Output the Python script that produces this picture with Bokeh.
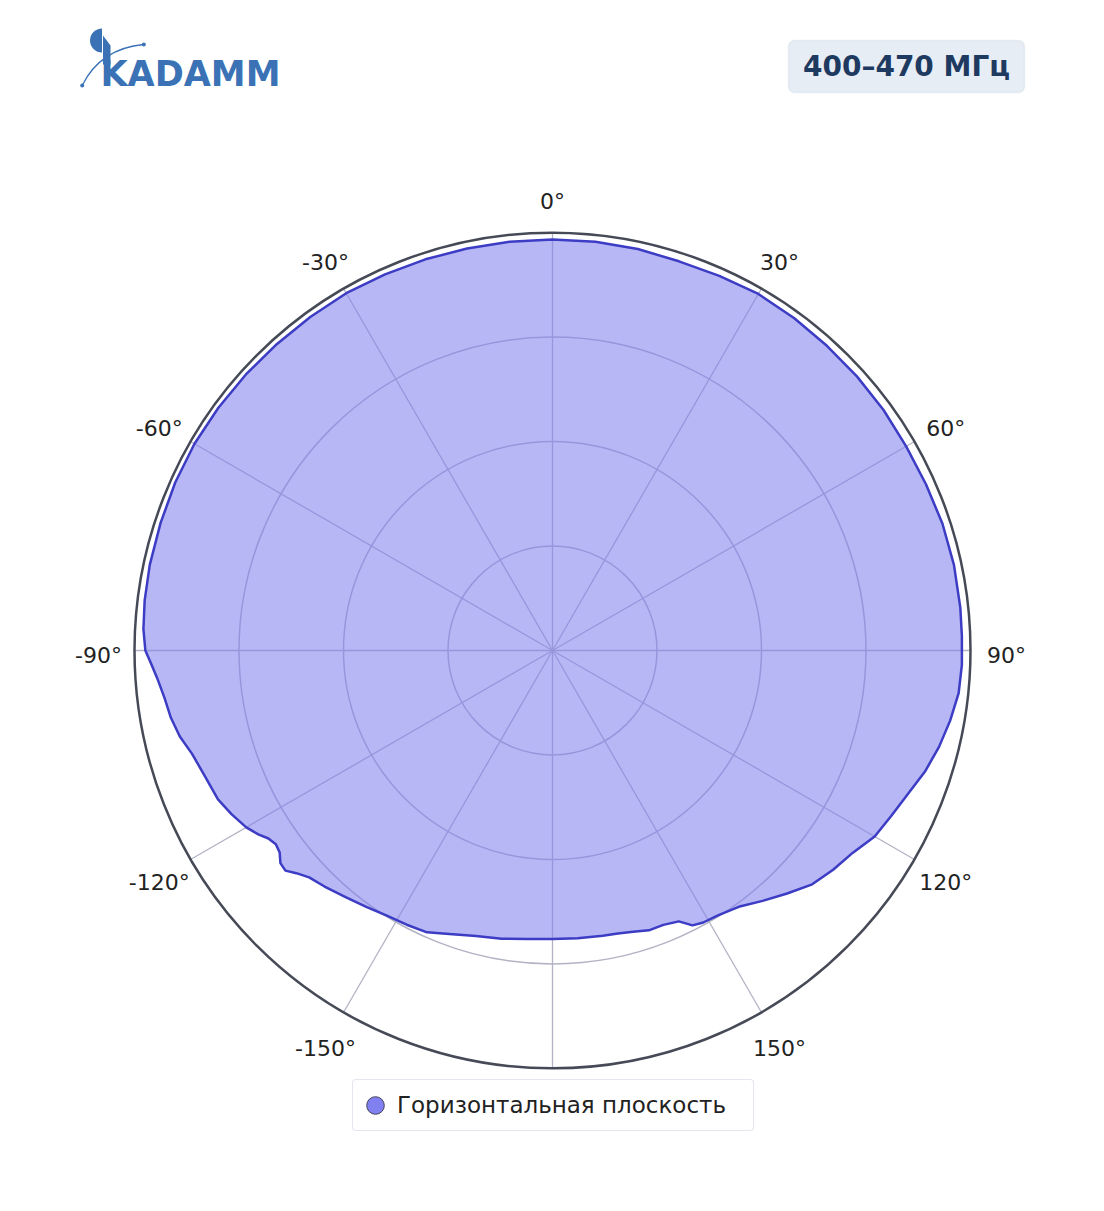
import numpy as np
from bokeh.plotting import figure
from bokeh.models import Range1d, Legend, LegendItem, BoxAnnotation, Label
from bokeh.core.properties import value
from bokeh.embed import file_html
from bokeh.resources import INLINE

# ---------------- data ----------------
angles_deg = [-180, -175, -170, -165, -160, -156, -152, -148, -144, -140, -136, -133,
              -131, -129.5, -128, -126.5, -125, -123.5, -122, -120, -117, -114, -110,
              -106, -103, -100, -97, -94, -92, -90, -87, -83, -78, -72, -66, -60, -54,
              -48, -42, -36, -30, -24, -18, -12, -6, 0, 6, 12, 18, 24, 30, 36, 42, 48,
              54, 60, 66, 72, 78, 84, 88, 92, 96, 100, 104, 108, 112, 116, 120, 124,
              128, 132, 136, 140, 144, 148, 151, 153, 155, 158, 161, 164, 167, 170, 175]
gain = [0.690, 0.693, 0.700, 0.707, 0.722, 0.738, 0.743, 0.748, 0.758, 0.770, 0.785, 0.796,
        0.812, 0.828, 0.826, 0.812, 0.808, 0.815, 0.830, 0.846, 0.862, 0.876, 0.884,
        0.897, 0.915, 0.927, 0.935, 0.948, 0.960, 0.974, 0.980, 0.983, 0.985, 0.986, 0.988, 0.989, 0.988,
        0.987, 0.986, 0.986, 0.987, 0.985, 0.984, 0.983, 0.983, 0.983, 0.983, 0.982, 0.979, 0.981, 0.985, 0.983, 0.981, 0.980,
        0.979, 0.977, 0.978, 0.981, 0.982, 0.981, 0.980, 0.980, 0.977, 0.966, 0.953, 0.937, 0.917, 0.902, 0.890, 0.866,
        0.852, 0.836, 0.808, 0.782, 0.758, 0.747, 0.744, 0.738, 0.715, 0.708, 0.708, 0.700, 0.695, 0.693, 0.691]

ring_values = [0.25, 0.5, 0.75]
axis_max = 1.0
spoke_angles = [0, 30, 60, 90, 120, 150, 180, 210, 240, 270, 300, 330]
tick_angles = [0, 30, 60, 90, 120, 150, -150, -120, -90, -60, -30]
tick_labels = ["0°", "30°", "60°", "90°", "120°", "150°", "-150°", "-120°", "-90°", "-60°", "-30°"]
series_name = "Горизонтальная плоскость"
band_title = "400–470 МГц"
brand = "KADAMM"

# ---------------- layout helpers ----------------
W, H = 1088, 1195
CX, CY = 552, 650      # page px of polar centre
S = 418.0              # px per unit radius


def P(xp, yp):
    return (xp - CX) / S, (CY - yp) / S


p = figure(width=W, height=H,
           x_range=Range1d((0 - CX) / S, (W - CX) / S),
           y_range=Range1d((CY - H) / S, CY / S),
           output_backend="svg", toolbar_location=None,
           x_axis_type=None, y_axis_type=None, min_border=0,
           outline_line_color=None, background_fill_color="white",
           border_fill_color="white")

# rings
p.circle(x=[0] * len(ring_values), y=[0] * len(ring_values), radius=ring_values,
         fill_color=None, line_color="#b2b3c4", line_width=1.5)
# spokes
sa = np.radians(spoke_angles)
p.segment(x0=np.zeros(len(sa)), y0=np.zeros(len(sa)),
          x1=axis_max * np.sin(sa), y1=axis_max * np.cos(sa),
          line_color="#b2b3c4", line_width=1.3)

# data
th = np.radians(np.array(angles_deg, dtype=float))
r = np.array(gain)
xs = r * np.sin(th)
ys = r * np.cos(th)
p.patch(list(xs), list(ys), fill_color="#8080f0", fill_alpha=0.57, line_color=None)
p.line(list(xs) + [xs[0]], list(ys) + [ys[0]], line_color="#3c3cc4", line_width=2.5,
       line_join="round")

# outer circle
p.circle(x=[0], y=[0], radius=[axis_max], fill_color=None, line_color="#454a56",
         line_width=2.5)

# angular tick labels
ta = np.radians(tick_angles)
LR = 454.0 / S
p.text(x=LR * np.sin(ta), y=LR * np.cos(ta), text=tick_labels,
       text_font=value("DejaVu Sans"), text_font_size="22px", text_color="#222222",
       text_align="center", text_baseline="middle", y_offset=5)

# legend (marker renderer kept outside the visible range; only its legend glyph shows)
dummy = p.scatter(x=[50.0], y=[50.0], marker="circle", size=20, fill_color="#8080f0",
                  line_color="#44445a", line_width=1)
legend = Legend(items=[LegendItem(label=series_name, renderers=[dummy])],
                location=(352, H - 1131), padding=0, margin=0,
                glyph_width=44, glyph_height=50, label_standoff=0, label_width=356,
                label_text_font="DejaVu Sans", label_text_font_size="23px",
                label_text_color="#222222", border_line_color="#c9d1de",
                border_line_width=1.5, background_fill_color="white",
                background_fill_alpha=1.0)
if "border_radius" in Legend.properties():
    legend.border_radius = 4
p.add_layout(legend)

# title box
l, t = P(788, 40)
rr, b = P(1024, 92)
box = BoxAnnotation(left=l, right=rr, top=t, bottom=b, fill_color="#e7edf5",
                    fill_alpha=1.0, line_color="#c3cfdf", line_width=1.5)
if "border_radius" in BoxAnnotation.properties():
    box.border_radius = 6
p.add_layout(box)
tx, ty = P(906, 66)
p.add_layout(Label(x=tx, y=ty, text=band_title, text_font="DejaVu Sans",
                   text_font_style="bold", text_font_size="28px", text_color="#1f3a60",
                   text_align="center", text_baseline="middle"))

# logo
LOGO = "#3b72b6"
wx, wy = P(101.5, 40)
p.wedge(x=[wx], y=[wy], radius=12, radius_units="screen", start_angle=90,
        end_angle=270, start_angle_units="deg", end_angle_units="deg",
        fill_color=LOGO, line_color=None)
stem = [P(102.5, 35), P(110, 45), P(110, 64), P(102.5, 64)]
p.patch([q[0] for q in stem], [q[1] for q in stem], fill_color=LOGO, line_color=None)
bx0, by0 = P(81.7, 85)
bx1, by1 = P(143.3, 44)
bcx, bcy = P(100, 48)
p.quadratic(x0=[bx0], y0=[by0], x1=[bx1], y1=[by1], cx=[bcx], cy=[bcy],
            line_color=LOGO, line_width=1.3)
p.scatter(x=[bx0, bx1], y=[by0, by1], size=4, fill_color=LOGO, line_color=None)
kx, ky = P(100, 73)
p.text(x=[kx], y=[ky], text=[brand], text_font=value("DejaVu Sans"),
       text_font_style="bold", text_font_size="35px", text_color=LOGO,
       text_align="left", text_baseline="middle")

open("out.html", "w").write(file_html(p, INLINE))
